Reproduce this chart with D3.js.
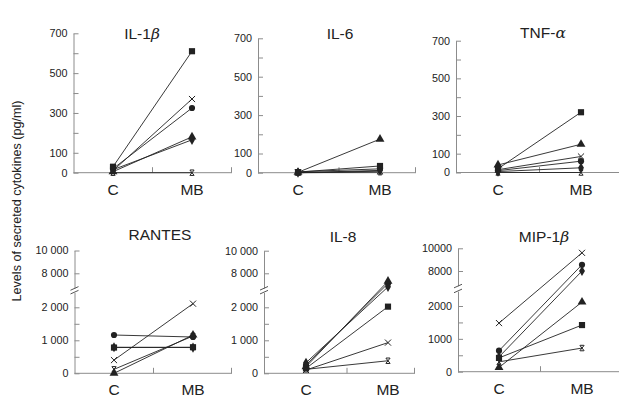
<!DOCTYPE html>
<html><head><meta charset="utf-8">
<script src="https://cdn.jsdelivr.net/npm/d3@7"></script>
<style>body{margin:0;background:#fff}svg{display:block;font-family:"Liberation Sans",Arial,Helvetica,sans-serif}</style>
</head><body><svg id="c" width="619" height="400"></svg>
<script>
// ---- data ----
const categories = ["C", "MB"];
const seriesMarkers = ["circle", "square", "triangle", "diamond", "cross", "asterisk"];
// each row: [C, MB] for one donor / marker
const il1bValues   = [[20, 325], [30, 610], [5, 180], [15, 165], [10, 370], [0, 0]];
const il6Values    = [[5, 20], [3, 35], [2, 175], [0, 12], [0, 8], [0, 3]];
const tnfValues    = [[10, 60], [20, 320], [40, 150], [5, 25], [15, 85], [0, 0]];
const rantesValues = [[1160, 1100], [780, 790], [0, 1160], [790, 780], [400, 2110], [120, 1130]];
const il8Values    = [[250, 7100], [150, 2020], [200, 7300], [320, 6800], [100, 930], [120, 380]];
const mip1bValues  = [[640, 8550], [420, 1420], [130, 2120], [450, 8000], [1480, 9600], [300, 720]];
const titles = [["IL-1", "β"], ["IL-6", ""], ["TNF-", "α"], ["RANTES", ""], ["IL-8", ""], ["MIP-1", "β"]];
const topTickValues = [0, 100, 200, 300, 400, 500, 600, 700];
const topTickLabels = ["0", "100", "", "300", "", "500", "", "700"];
const lowTickValues = [0, 500, 1000, 1500, 2000];
const lowTickLabelsSpaced = ["0", "", "1 000", "", "2 000"];
const lowTickLabelsPlain = ["0", "", "1000", "", "2000"];
const highTickValues = [8000, 10000];
const highTickLabelsSpaced = ["8 000", "10 000"];
const highTickLabelsPlain = ["8000", "10000"];
const yAxisTitle = "Levels of secreted cytokines (pg/ml)";

const panelValues = [il1bValues, il6Values, tnfValues, rantesValues, il8Values, mip1bValues];

// ---- layout ----
const layout = [
  {ax: 73.5, x1: 232, cx: 113, mx: 192, y0: 172.7, yTop: 33.3, tx: 142, ty: 38.5},
  {ax: 258, x1: 416, cx: 298, mx: 380, y0: 172.7, yTop: 38.3, tx: 340, ty: 38.5},
  {ax: 456, x1: 622, cx: 498, mx: 581, y0: 172.5, yTop: 40.7, tx: 543, ty: 37.5},
  {ax: 74.5, x1: 232, cx: 114, mx: 193, y0: 373.3, y2k: 307.3, y8k: 273.3, y10k: 250.5, tx: 160, ty: 240, spaced: true},
  {ax: 264, x1: 415, cx: 306, mx: 388, y0: 373.3, y2k: 307.3, y8k: 273.3, y10k: 250.7, tx: 343, ty: 241.5, spaced: true},
  {ax: 458, x1: 622, cx: 499, mx: 582, y0: 371.7, y2k: 306, y8k: 271, y10k: 248.3, tx: 544, ty: 241.5, spaced: false}
];

const svg = d3.select("#c");
const AX = "#8c8c8c", INK = "#222", TXT = "#222";

const asteriskType = {
  draw(ctx, size) {
    const r = Math.sqrt(size) / 2;
    ctx.moveTo(-r * 0.8, -r); ctx.lineTo(r * 0.8, r);
    ctx.moveTo(r * 0.8, -r); ctx.lineTo(-r * 0.8, r);
    ctx.moveTo(-r * 0.7, -r); ctx.lineTo(r * 0.7, -r);
    ctx.moveTo(-r * 0.7, r); ctx.lineTo(r * 0.7, r);
  }
};
const symbolTypes = {
  circle: [d3.symbolCircle, 30, true],
  square: [d3.symbolSquare, 38, true],
  triangle: [d3.symbolTriangle, 34, true],
  diamond: [d3.symbolDiamond, 30, true],
  cross: [d3.symbolTimes, 26, false],
  asterisk: [asteriskType, 30, false]
};

function styleAxis(g) {
  g.selectAll("path.domain").attr("stroke", AX).attr("stroke-width", 1);
  g.selectAll(".tick line").attr("stroke", AX).attr("stroke-width", 1);
  g.selectAll(".tick text").attr("fill", TXT).attr("font-size", "10.8px")
    .attr("font-family", '"Liberation Sans",Arial,sans-serif');
}

layout.forEach((L, p) => {
  const g = svg.append("g");
  const x = d3.scalePoint().domain(categories).range([L.cx, L.mx]);
  let y;
  if (p < 3) {
    const ys = d3.scaleLinear().domain([0, 700]).range([L.y0, L.yTop]);
    y = ys;
    const ax = g.append("g").attr("transform", `translate(${L.ax},0)`)
      .call(d3.axisLeft(ys).tickValues(topTickValues)
        .tickFormat((d, i) => topTickLabels[i]).tickSizeInner(-5).tickSizeOuter(0).tickPadding(6));
    styleAxis(ax);
  } else {
    const lo = d3.scaleLinear().domain([0, 2000]).range([L.y0, L.y2k]);
    const hi = d3.scaleLinear().domain([8000, 10000]).range([L.y8k, L.y10k]);
    y = v => v > 4000 ? hi(v) : lo(v);
    const loAx = lo.copy().domain([0, 2450]).range([L.y0, lo(2450)]);
    const hiAx = hi.copy().domain([6700, 10000]).range([hi(6700), L.y10k]);
    const lowLabels = L.spaced ? lowTickLabelsSpaced : lowTickLabelsPlain;
    const highLabels = L.spaced ? highTickLabelsSpaced : highTickLabelsPlain;
    const a1 = g.append("g").attr("transform", `translate(${L.ax},0)`)
      .call(d3.axisLeft(loAx).tickValues(lowTickValues)
        .tickFormat((d, i) => lowLabels[i]).tickSizeInner(-5).tickSizeOuter(0).tickPadding(6));
    styleAxis(a1);
    const a2 = g.append("g").attr("transform", `translate(${L.ax},0)`)
      .call(d3.axisLeft(hiAx).tickValues(highTickValues)
        .tickFormat((d, i) => highLabels[i]).tickSizeInner(-5).tickSizeOuter(0).tickPadding(6));
    styleAxis(a2);
    // break marks
    [hi(6700) + 0.3, lo(2450) - 0.3].forEach(by => {
      g.append("line").attr("x1", L.ax - 4).attr("y1", by + 1.8).attr("x2", L.ax + 4).attr("y2", by - 1.8)
        .attr("stroke", "#555").attr("stroke-width", 1);
    });
  }
  // x axis
  const yb = L.y0;
  g.append("line").attr("x1", L.ax).attr("x2", L.x1).attr("y1", yb).attr("y2", yb)
    .attr("stroke", AX).attr("stroke-width", 1);
  [(L.cx + L.mx) / 2, L.x1 - 0.5].forEach(tx => {
    g.append("line").attr("x1", tx).attr("x2", tx).attr("y1", yb).attr("y2", yb - 5.5)
      .attr("stroke", AX).attr("stroke-width", 1);
  });
  g.selectAll("text.cat").data(categories).join("text").attr("class", "cat")
    .attr("x", d => x(d)).attr("y", yb + 22).attr("text-anchor", "middle")
    .attr("font-size", "15.5px").attr("fill", TXT).text(d => d);
  // title
  const t = g.append("text").attr("x", L.tx).attr("y", L.ty).attr("text-anchor", "middle")
    .attr("font-size", "15.5px").attr("fill", TXT);
  t.append("tspan").text(titles[p][0]);
  if (titles[p][1]) t.append("tspan").attr("font-style", "italic")
    .attr("font-family", '"DejaVu Serif","Liberation Serif",serif').text(titles[p][1]);

  // data lines
  const vals = panelValues[p];
  const line = d3.line().x((d, i) => x(categories[i])).y(d => y(d));
  g.selectAll("path.ln").data(vals).join("path").attr("class", "ln")
    .attr("d", d => line(d)).attr("fill", "none").attr("stroke", INK).attr("stroke-width", 0.9);
  vals.forEach((row, s) => {
    const [type, size, filled] = symbolTypes[seriesMarkers[s]];
    const sym = d3.symbol().type(type).size(size);
    row.forEach((v, i) => {
      const m = g.append("path").attr("d", sym())
        .attr("transform", `translate(${x(categories[i])},${y(v)})`);
      if (filled) m.attr("fill", INK).attr("stroke", "none");
      else m.attr("fill", "none").attr("stroke", INK).attr("stroke-width", 1);
    });
  });
});

svg.append("text").attr("transform", "translate(21,201) rotate(-90)")
  .attr("text-anchor", "middle").attr("font-size", "12.6px").attr("fill", TXT).text(yAxisTitle);
</script></body></html>
